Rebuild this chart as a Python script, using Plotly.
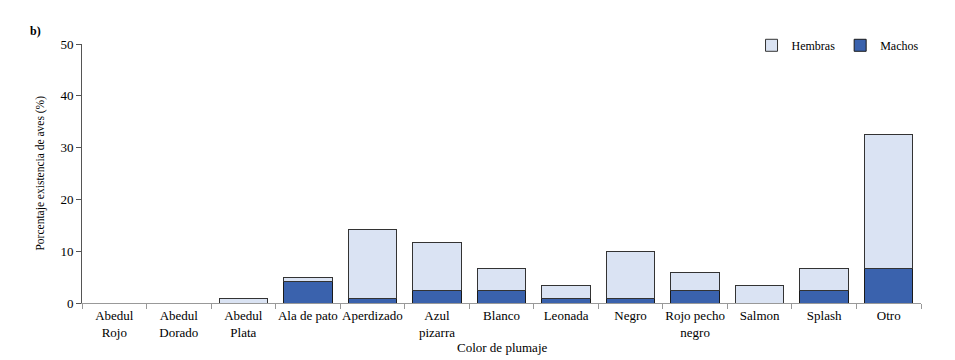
import plotly.graph_objects as go

categories = ["Abedul<br>Rojo", "Abedul<br>Dorado", "Abedul<br>Plata", "Ala de pato", "Aperdizado",
              "Azul<br>pizarra", "Blanco", "Leonada", "Negro", "Rojo pecho<br>negro", "Salmon",
              "Splash", "Otro"]
machos = [0, 0, 0, 4.17, 0.83, 2.5, 2.5, 0.83, 0.83, 2.5, 0, 2.5, 6.67]
hembras = [0, 0, 0.83, 0.83, 13.33, 9.17, 4.17, 2.5, 9.17, 3.33, 3.33, 4.17, 25.83]
y_ticks = [0, 10, 20, 30, 40, 50]

font_fam = "Liberation Serif, Times New Roman, serif"

fig = go.Figure()
fig.add_trace(go.Bar(x=categories, y=machos, name="Machos",
                     marker=dict(color="#3A62AD", line=dict(color="#1a1a1a", width=1))))
fig.add_trace(go.Bar(x=categories, y=hembras, name="Hembras",
                     marker=dict(color="#DAE3F3", line=dict(color="#333333", width=1))))

fig.update_layout(
    width=955, height=360,
    barmode="stack", bargap=0.25,
    paper_bgcolor="white", plot_bgcolor="white",
    margin=dict(l=74, r=42, t=36, b=65, autoexpand=False),
    font=dict(family=font_fam, size=13, color="#000000"),
    legend=dict(orientation="h", traceorder="reversed", x=1.003, xanchor="right",
                y=0.995, yanchor="middle", font=dict(size=12), itemwidth=30,
                bgcolor="rgba(0,0,0,0)"),
    showlegend=True,
)
fig.update_xaxes(
    showline=True, linecolor="#999999", linewidth=1,
    ticks="outside", tickson="boundaries", tickcolor="#999999", ticklen=5,
    tickangle=0, tickfont=dict(size=13), showgrid=False, automargin=False,
)
fig.update_yaxes(
    range=[0, 50], tickvals=y_ticks, showline=True, linecolor="#555555", linewidth=1,
    ticks="outside", tickcolor="#555555", ticklen=5, showgrid=False, zeroline=False,
    tickfont=dict(size=13), automargin=False,
)
fig.add_annotation(text="<b>b)</b>", xref="paper", yref="paper", x=-0.064, y=1.05,
                   showarrow=False, xanchor="left", yanchor="middle", font=dict(size=12))
fig.add_annotation(text="Porcentaje existencia de aves (%)", xref="paper", yref="paper",
                   x=-0.050, y=0.5, textangle=-90, showarrow=False, xanchor="center",
                   yanchor="middle", font=dict(size=11.5))
fig.add_annotation(text="Color de plumaje", xref="paper", yref="paper",
                   x=0.5, y=-0.17, showarrow=False, xanchor="center",
                   yanchor="middle", font=dict(size=13))

fig.write_html("out.html")
